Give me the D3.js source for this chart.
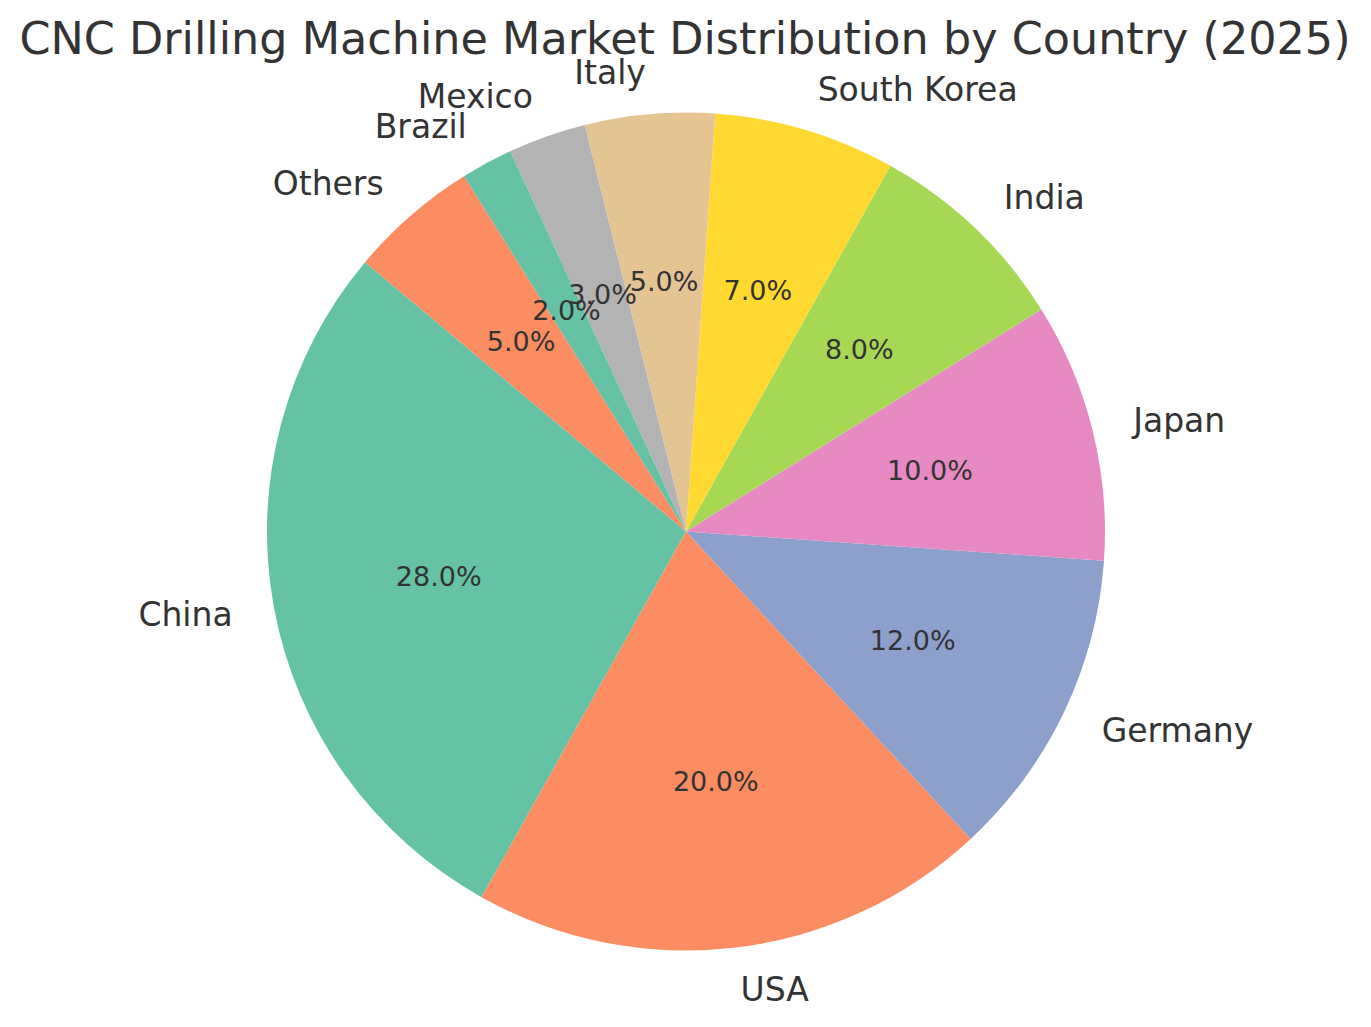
<!DOCTYPE html>
<html><head><meta charset="utf-8">
<script src="https://cdn.jsdelivr.net/npm/d3@7"></script>
<style>body{margin:0;background:#fff;}svg text{font-family:"DejaVu Sans",sans-serif;fill:#333;}</style>
</head><body>
<svg id="chart" width="1371" height="1027"></svg>
<script>
const countries = ["China","USA","Germany","Japan","India","South Korea","Italy","Mexico","Brazil","Others"];
const shares = [28,20,12,10,8,7,5,3,2,5];
const colors = ["#66c2a5","#fc8d62","#8da0cb","#e78ac3","#a6d854","#ffd92f","#e5c494","#b3b3b3","#66c2a5","#fc8d62"];
const title = "CNC Drilling Machine Market Distribution by Country (2025)";

const svg = d3.select("#chart");
const cx = 686, cy = 531.5, R = 419;
const startDeg = 140; // matplotlib startangle, counterclockwise
const toRad = d => d*Math.PI/180;

const pie = d3.pie().sort(null).value(d=>d)
  .startAngle(toRad(90-startDeg)).endAngle(toRad(90-startDeg-360));
const arcs = pie(shares);
const arc = d3.arc().innerRadius(0).outerRadius(R);
const g = svg.append("g").attr("transform",`translate(${cx},${cy})`);

g.selectAll("path").data(arcs).enter().append("path")
  .attr("d",arc).attr("fill",(d,i)=>colors[i]);

function pos(d, f){
  const a = (d.startAngle+d.endAngle)/2; // d3 angle, clockwise from 12
  return [Math.sin(a)*R*f, -Math.cos(a)*R*f];
}
g.selectAll("text.lbl").data(arcs).enter().append("text")
  .attr("class","lbl")
  .attr("x",d=>pos(d,1.1)[0]).attr("y",d=>pos(d,1.1)[1])
  .attr("text-anchor",d=>pos(d,1.1)[0]<0?"end":"start")
  .attr("dominant-baseline","central")
  .style("font-size","33px")
  .text((d,i)=>countries[i]);
g.selectAll("text.pct").data(arcs).enter().append("text")
  .attr("class","pct")
  .attr("x",d=>pos(d,0.6)[0]).attr("y",d=>pos(d,0.6)[1])
  .attr("text-anchor","middle")
  .attr("dominant-baseline","central")
  .style("font-size","27px")
  .text(d=>d.data.toFixed(1)+"%");

svg.append("text").attr("x",685).attr("y",54).attr("text-anchor","middle")
  .style("font-size","44.5px").text(title);
</script>
</body></html>
